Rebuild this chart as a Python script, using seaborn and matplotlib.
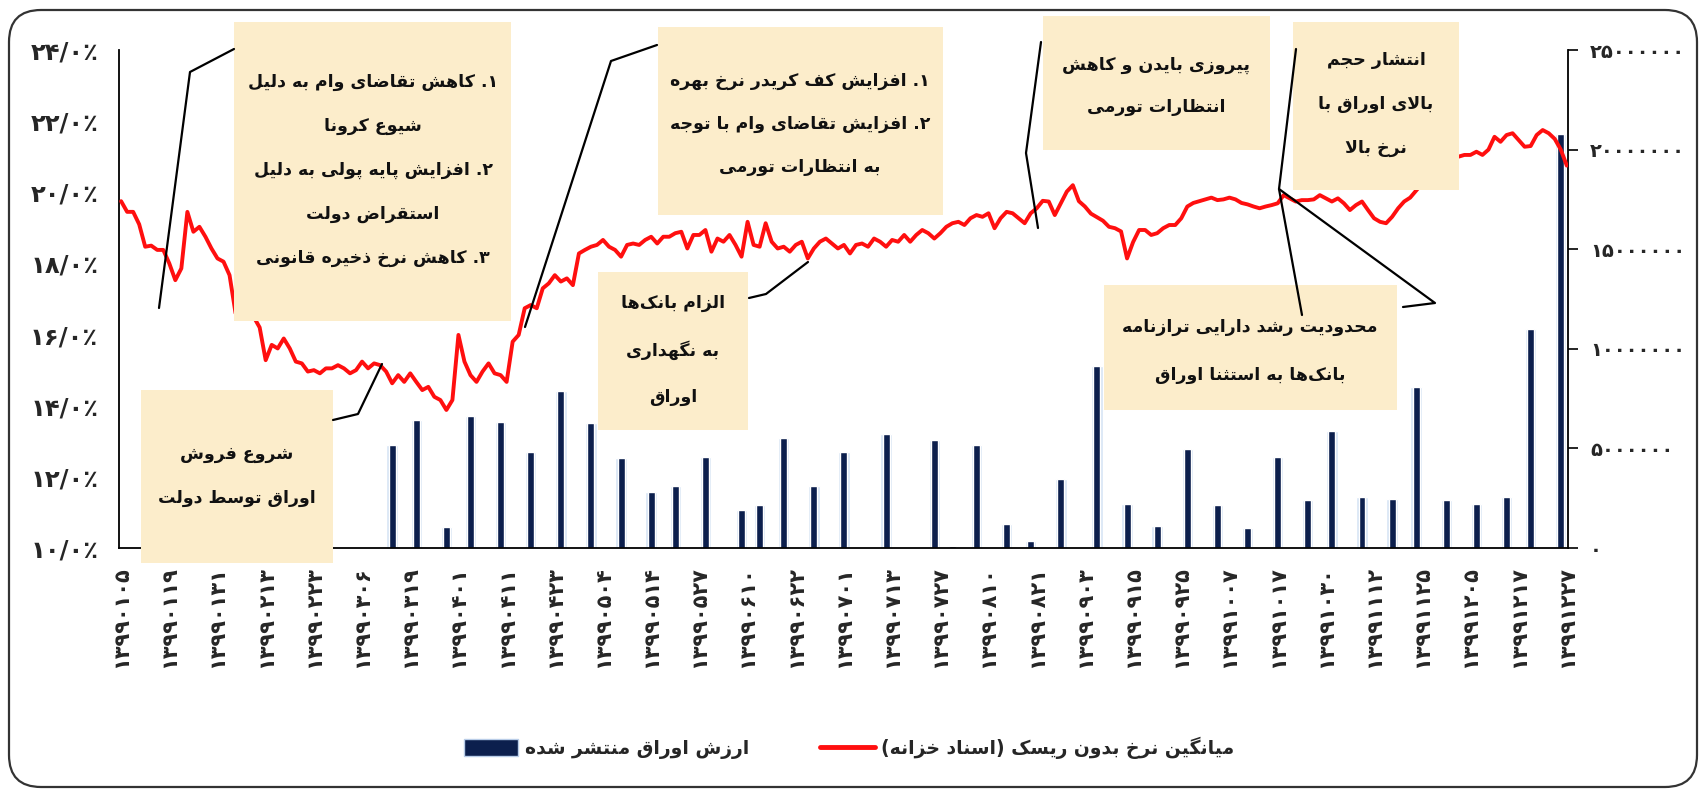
import re
import pandas as pd
import matplotlib
matplotlib.use('Agg')
import matplotlib.pyplot as plt
import seaborn as sns
from matplotlib.patches import Rectangle, FancyBboxPatch, Patch
from matplotlib.lines import Line2D
from matplotlib.transforms import IdentityTransform

# ---------------- data ----------------
date_labels = ['13990105', '13990119', '13990131', '13990213', '13990223', '13990306',
               '13990319', '13990401', '13990411', '13990423', '13990504', '13990514',
               '13990527', '13990610', '13990622', '13990701', '13990713', '13990727',
               '13990810', '13990821', '13990903', '13990915', '13990925', '13991007',
               '13991017', '13991030', '13991112', '13991125', '13991205', '13991217',
               '13991227']

# average risk-free rate (treasury bills), one value per trading day
rate = [19.75, 19.45, 19.45, 19.10, 18.47, 18.50, 18.38, 18.38, 18.00, 17.53,
        17.86, 19.45, 18.89, 19.03, 18.75, 18.42, 18.14, 18.05, 17.67, 16.60,
        16.70, 16.60, 16.50, 16.20, 15.28, 15.71, 15.61, 15.89, 15.61, 15.24,
        15.19, 14.96, 15.00, 14.91, 15.05, 15.05, 15.14, 15.05, 14.91, 15.00,
        15.24, 15.05, 15.19, 15.14, 14.96, 14.63, 14.86, 14.67, 14.91, 14.67,
        14.44, 14.53, 14.25, 14.16, 13.88, 14.16, 15.99, 15.24, 14.86, 14.67,
        14.96, 15.19, 14.91, 14.86, 14.67, 15.80, 15.99, 16.74, 16.83, 16.74,
        17.30, 17.44, 17.67, 17.49, 17.58, 17.39, 18.28, 18.38, 18.47, 18.52,
        18.66, 18.47, 18.38, 18.19, 18.52, 18.56, 18.52, 18.66, 18.75, 18.56,
        18.75, 18.75, 18.85, 18.89, 18.42, 18.80, 18.80, 18.94, 18.33, 18.70,
        18.61, 18.80, 18.52, 18.19, 19.17, 18.52, 18.47, 19.13, 18.61, 18.42,
        18.47, 18.33, 18.52, 18.61, 18.14, 18.42, 18.61, 18.70, 18.56, 18.42,
        18.52, 18.28, 18.52, 18.56, 18.47, 18.70, 18.61, 18.47, 18.66, 18.61,
        18.80, 18.61, 18.80, 18.94, 18.85, 18.70, 18.85, 19.03, 19.13, 19.17,
        19.08, 19.27, 19.36, 19.31, 19.41, 18.99, 19.27, 19.45, 19.41, 19.27,
        19.13, 19.41, 19.55, 19.76, 19.74, 19.36, 19.69, 20.02, 20.20, 19.75,
        19.60, 19.40, 19.30, 19.20, 19.03, 18.99, 18.90, 18.14, 18.60, 18.94,
        18.94, 18.80, 18.85, 18.99, 19.08, 19.08, 19.27, 19.60, 19.70, 19.75,
        19.80, 19.85, 19.78, 19.80, 19.85, 19.80, 19.70, 19.66, 19.60, 19.55,
        19.60, 19.64, 19.69, 19.92, 19.83, 19.74, 19.78, 19.78, 19.80, 19.92,
        19.83, 19.74, 19.83, 19.69, 19.50, 19.64, 19.74, 19.50, 19.27, 19.17,
        19.13, 19.31, 19.55, 19.74, 19.85, 20.05, 20.25, 20.40, 20.55, 20.70,
        20.80, 20.90, 21.00, 21.05, 21.05, 21.14, 21.05, 21.20, 21.56, 21.42,
        21.61, 21.66, 21.47, 21.28, 21.30, 21.61, 21.75, 21.66, 21.50, 21.20,
        20.75]

# trading-day index of each auction and value of bonds issued
issue_day = [45, 49, 54, 58, 63, 68, 73, 78, 83, 88,
             92, 97, 103, 106, 110, 115, 120, 127, 135, 138,
             142, 147, 151, 156, 162, 167, 172, 177, 182, 187,
             192, 197, 201, 206, 211, 215, 220, 225, 230, 234,
             239]
issue_val = [5150000, 6450000, 1050000, 6650000, 6350000, 4800000, 7900000, 6300000, 4500000, 2800000,
             3100000, 4550000, 1900000, 2150000, 5500000, 3100000, 4800000, 5700000, 5400000, 120000,
             5150000, 1200000, 350000, 3450000, 9150000, 2200000, 1100000, 4950000, 2150000, 1000000,
             4550000, 2400000, 5850000, 2550000, 2450000, 8100000, 2400000, 2200000, 2550000, 11000000,
             20800000]

rate_ticks = [10, 12, 14, 16, 18, 20, 22, 24]
value_ticks = [0, 5000000, 10000000, 15000000, 20000000, 25000000]

legend_rate = 'میانگین نرخ بدون ریسک (اسناد خزانه)'
legend_value = 'ارزش اوراق منتشر شده'

notes = [
    ['۱. کاهش تقاضای وام به دلیل', 'شیوع کرونا', '۲. افزایش پایه پولی به دلیل',
     'استقراض دولت', '۳. کاهش نرخ ذخیره قانونی'],
    ['۱. افزایش کف کریدر نرخ بهره', '۲. افزایش تقاضای وام با توجه', 'به انتظارات تورمی'],
    ['پیروزی بایدن و کاهش', 'انتظارات تورمی'],
    ['انتشار حجم', 'بالای اوراق با', 'نرخ بالا'],
    ['الزام بانک\u200cها', 'به نگهداری', 'اوراق'],
    ['شروع فروش', 'اوراق توسط دولت'],
    ['محدودیت رشد دارایی ترازنامه', 'بانک\u200cها به استثنا اوراق'],
]

# ---------------- persian text helpers ----------------
FORMS = {
    'ا': ('\uFE8D', '\uFE8E', None, None), 'آ': ('\uFE81', '\uFE82', None, None),
    'ب': ('\uFE8F', '\uFE90', '\uFE91', '\uFE92'), 'پ': ('\uFB56', '\uFB57', '\uFB58', '\uFB59'),
    'ت': ('\uFE95', '\uFE96', '\uFE97', '\uFE98'), 'ث': ('\uFE99', '\uFE9A', '\uFE9B', '\uFE9C'),
    'ج': ('\uFE9D', '\uFE9E', '\uFE9F', '\uFEA0'), 'چ': ('\uFB7A', '\uFB7B', '\uFB7C', '\uFB7D'),
    'ح': ('\uFEA1', '\uFEA2', '\uFEA3', '\uFEA4'), 'خ': ('\uFEA5', '\uFEA6', '\uFEA7', '\uFEA8'),
    'د': ('\uFEA9', '\uFEAA', None, None), 'ذ': ('\uFEAB', '\uFEAC', None, None),
    'ر': ('\uFEAD', '\uFEAE', None, None), 'ز': ('\uFEAF', '\uFEB0', None, None),
    'ژ': ('\uFB8A', '\uFB8B', None, None),
    'س': ('\uFEB1', '\uFEB2', '\uFEB3', '\uFEB4'), 'ش': ('\uFEB5', '\uFEB6', '\uFEB7', '\uFEB8'),
    'ص': ('\uFEB9', '\uFEBA', '\uFEBB', '\uFEBC'), 'ض': ('\uFEBD', '\uFEBE', '\uFEBF', '\uFEC0'),
    'ط': ('\uFEC1', '\uFEC2', '\uFEC3', '\uFEC4'), 'ظ': ('\uFEC5', '\uFEC6', '\uFEC7', '\uFEC8'),
    'ع': ('\uFEC9', '\uFECA', '\uFECB', '\uFECC'), 'غ': ('\uFECD', '\uFECE', '\uFECF', '\uFED0'),
    'ف': ('\uFED1', '\uFED2', '\uFED3', '\uFED4'), 'ق': ('\uFED5', '\uFED6', '\uFED7', '\uFED8'),
    'ک': ('\uFB8E', '\uFB8F', '\uFB90', '\uFB91'), 'گ': ('\uFB92', '\uFB93', '\uFB94', '\uFB95'),
    'ل': ('\uFEDD', '\uFEDE', '\uFEDF', '\uFEE0'), 'م': ('\uFEE1', '\uFEE2', '\uFEE3', '\uFEE4'),
    'ن': ('\uFEE5', '\uFEE6', '\uFEE7', '\uFEE8'), 'ه': ('\uFEE9', '\uFEEA', '\uFEEB', '\uFEEC'),
    'و': ('\uFEED', '\uFEEE', None, None),
    'ی': ('\uFBFC', '\uFBFD', '\uFBFE', '\uFBFF'), 'ئ': ('\uFE89', '\uFE8A', '\uFE8B', '\uFE8C'),
}
LAM_ALEF = {'ا': ('\uFEFB', '\uFEFC'), 'آ': ('\uFEF5', '\uFEF6')}


def joins_next(c):
    return c in FORMS and FORMS[c][2] is not None


def fa(s):
    """shape persian letters and put them in visual (left to right) order"""
    out = []
    i = 0
    while i < len(s):
        c = s[i]
        if c not in FORMS:
            if c != '\u200c':
                out.append(c)
            i += 1
            continue
        p = i > 0 and joins_next(s[i - 1])
        if c == 'ل' and i + 1 < len(s) and s[i + 1] in LAM_ALEF:
            out.append(LAM_ALEF[s[i + 1]][1 if p else 0])
            i += 2
            continue
        q = joins_next(c) and i + 1 < len(s) and s[i + 1] in FORMS
        iso, fin, ini, med = FORMS[c]
        out.append(med if (p and q) else fin if p else ini if q else iso)
        i += 1
    vis = ''.join(out)[::-1]
    vis = re.sub(r'[0-9\u06F0-\u06F9]+', lambda m: m.group(0)[::-1], vis)
    return vis.translate(str.maketrans('()', ')('))


def fa_digits(s):
    return str(s).translate(str.maketrans('0123456789', '۰۱۲۳۴۵۶۷۸۹'))


# ---------------- figure ----------------
sns.set_style('white')
plt.rcParams['font.family'] = ['DejaVu Sans']
plt.rcParams['font.weight'] = 'bold'

W, H = 1704, 796


def fx(x):
    return x / W


def fy(y):
    return 1 - y / H


fig = plt.figure(figsize=(W / 100, H / 100), dpi=100)
ax = fig.add_axes([fx(119), fy(548), fx(1568) - fx(119), fy(50) - fy(548)])

df = pd.DataFrame({'day': range(len(rate)), 'rate': rate})
bars = pd.DataFrame({'day': issue_day, 'value': issue_val})

navy = '#0c1f4d'
ax.bar(bars['day'], bars['value'], width=1.9, color='#d6e4f5', zorder=1)
ax.bar(bars['day'], bars['value'], width=1.15, color=navy, zorder=2)
ax.set_ylim(0, 25000000)
ax.set_xlim(-0.35, 240.2)

ax2 = ax.twinx()
sns.lineplot(data=df, x='day', y='rate', ax=ax2, color='#ff0f0f', linewidth=2.8)
ax2.set_ylim(10, 24)
ax2.set_xlim(-0.35, 240.2)

# axes styling
for a in (ax, ax2):
    a.set_xlabel('')
    a.set_ylabel('')
    for s in a.spines.values():
        s.set_visible(False)
for side in ('left', 'right', 'bottom'):
    ax.spines[side].set_visible(True)
    ax.spines[side].set_color('black')
    ax.spines[side].set_linewidth(1.3)

ax.yaxis.tick_right()
ax.set_yticks(value_ticks)
ax.set_yticklabels([fa_digits(v) for v in value_ticks])
ax.tick_params(axis='y', which='major', direction='out', length=7, width=1.2,
               color='black', labelsize=14, pad=9)

ax.set_xticks(range(0, len(rate), 8))
ax.set_xticklabels([fa_digits(d) for d in date_labels], rotation=90, va='top', ha='center')
ax.set_xticks(range(0, len(rate), 10), minor=True)
ax.tick_params(axis='x', which='major', length=0, labelsize=15, pad=13)
ax.tick_params(axis='x', which='minor', direction='out', length=7, width=1.2, color='black')

ax2.yaxis.tick_left()
ax2.set_yticks(rate_ticks)
ax2.set_yticklabels([fa_digits(v) + '/۰٪' for v in rate_ticks])
ax2.tick_params(axis='y', length=0, labelsize=17.5, pad=15)

# ---------------- annotation boxes ----------------
box_fc = '#fcedcb'
boxes = [
    (234, 22, 511, 321, 373, 170, 44),
    (658, 27, 943, 215, 800, 124, 43),
    (1043, 16, 1270, 150, 1156, 86, 41),
    (1293, 22, 1459, 190, 1376, 104, 44),
    (598, 272, 748, 430, 673, 350, 46.5),
    (141, 390, 333, 563, 237, 476, 43.5),
    (1104, 285, 1397, 410, 1250, 351, 48),
]
for (x0, y0, x1, y1, cx, cy, gap), lines in zip(boxes, notes):
    fig.patches.append(Rectangle((fx(x0), fy(y1)), fx(x1) - fx(x0), fy(y0) - fy(y1),
                                 transform=fig.transFigure, facecolor=box_fc,
                                 edgecolor='none', zorder=5))
    n = len(lines)
    for k, line in enumerate(lines):
        y = cy + (k - (n - 1) / 2) * gap
        fig.text(fx(cx), fy(y), fa(line), ha='center', va='center', fontsize=12.5,
                 fontweight='bold', color='#111111', zorder=7)

leaders = [
    [(234, 49), (190, 72), (159, 308)],
    [(657, 45), (611, 61), (525, 327)],
    [(1041, 42), (1026, 153), (1038, 228)],
    [(749, 298), (766, 294), (808, 262)],
    [(333, 420), (358, 414), (382, 364)],
    [(1296, 49), (1279, 189), (1302, 315)],
    [(1279, 189), (1435, 303), (1403, 307)],
]
for pts in leaders:
    fig.lines.append(Line2D([fx(p[0]) for p in pts], [fy(p[1]) for p in pts],
                            transform=fig.transFigure, color='black', lw=1.6, zorder=6))

# outer rounded frame
fig.patches.append(FancyBboxPatch((9, 9), 1688, 777, boxstyle='round,pad=0,rounding_size=32',
                                  transform=IdentityTransform(), facecolor='none',
                                  edgecolor='#333333', lw=1.6, zorder=8))

# ---------------- legend ----------------
handles = [Patch(facecolor=navy, edgecolor='#b9cde8', lw=1),
           Line2D([], [], color='#ff0f0f', lw=3.5)]
fig.legend(handles, [fa(legend_value), fa(legend_rate)], loc='center',
           bbox_to_anchor=(fx(849), fy(748)), ncol=2, frameon=False,
           prop={'weight': 'bold', 'size': 13.5}, handlelength=2.9, handleheight=1.0,
           handletextpad=0.35, columnspacing=3.8)

fig.savefig('out.png', dpi=100)
